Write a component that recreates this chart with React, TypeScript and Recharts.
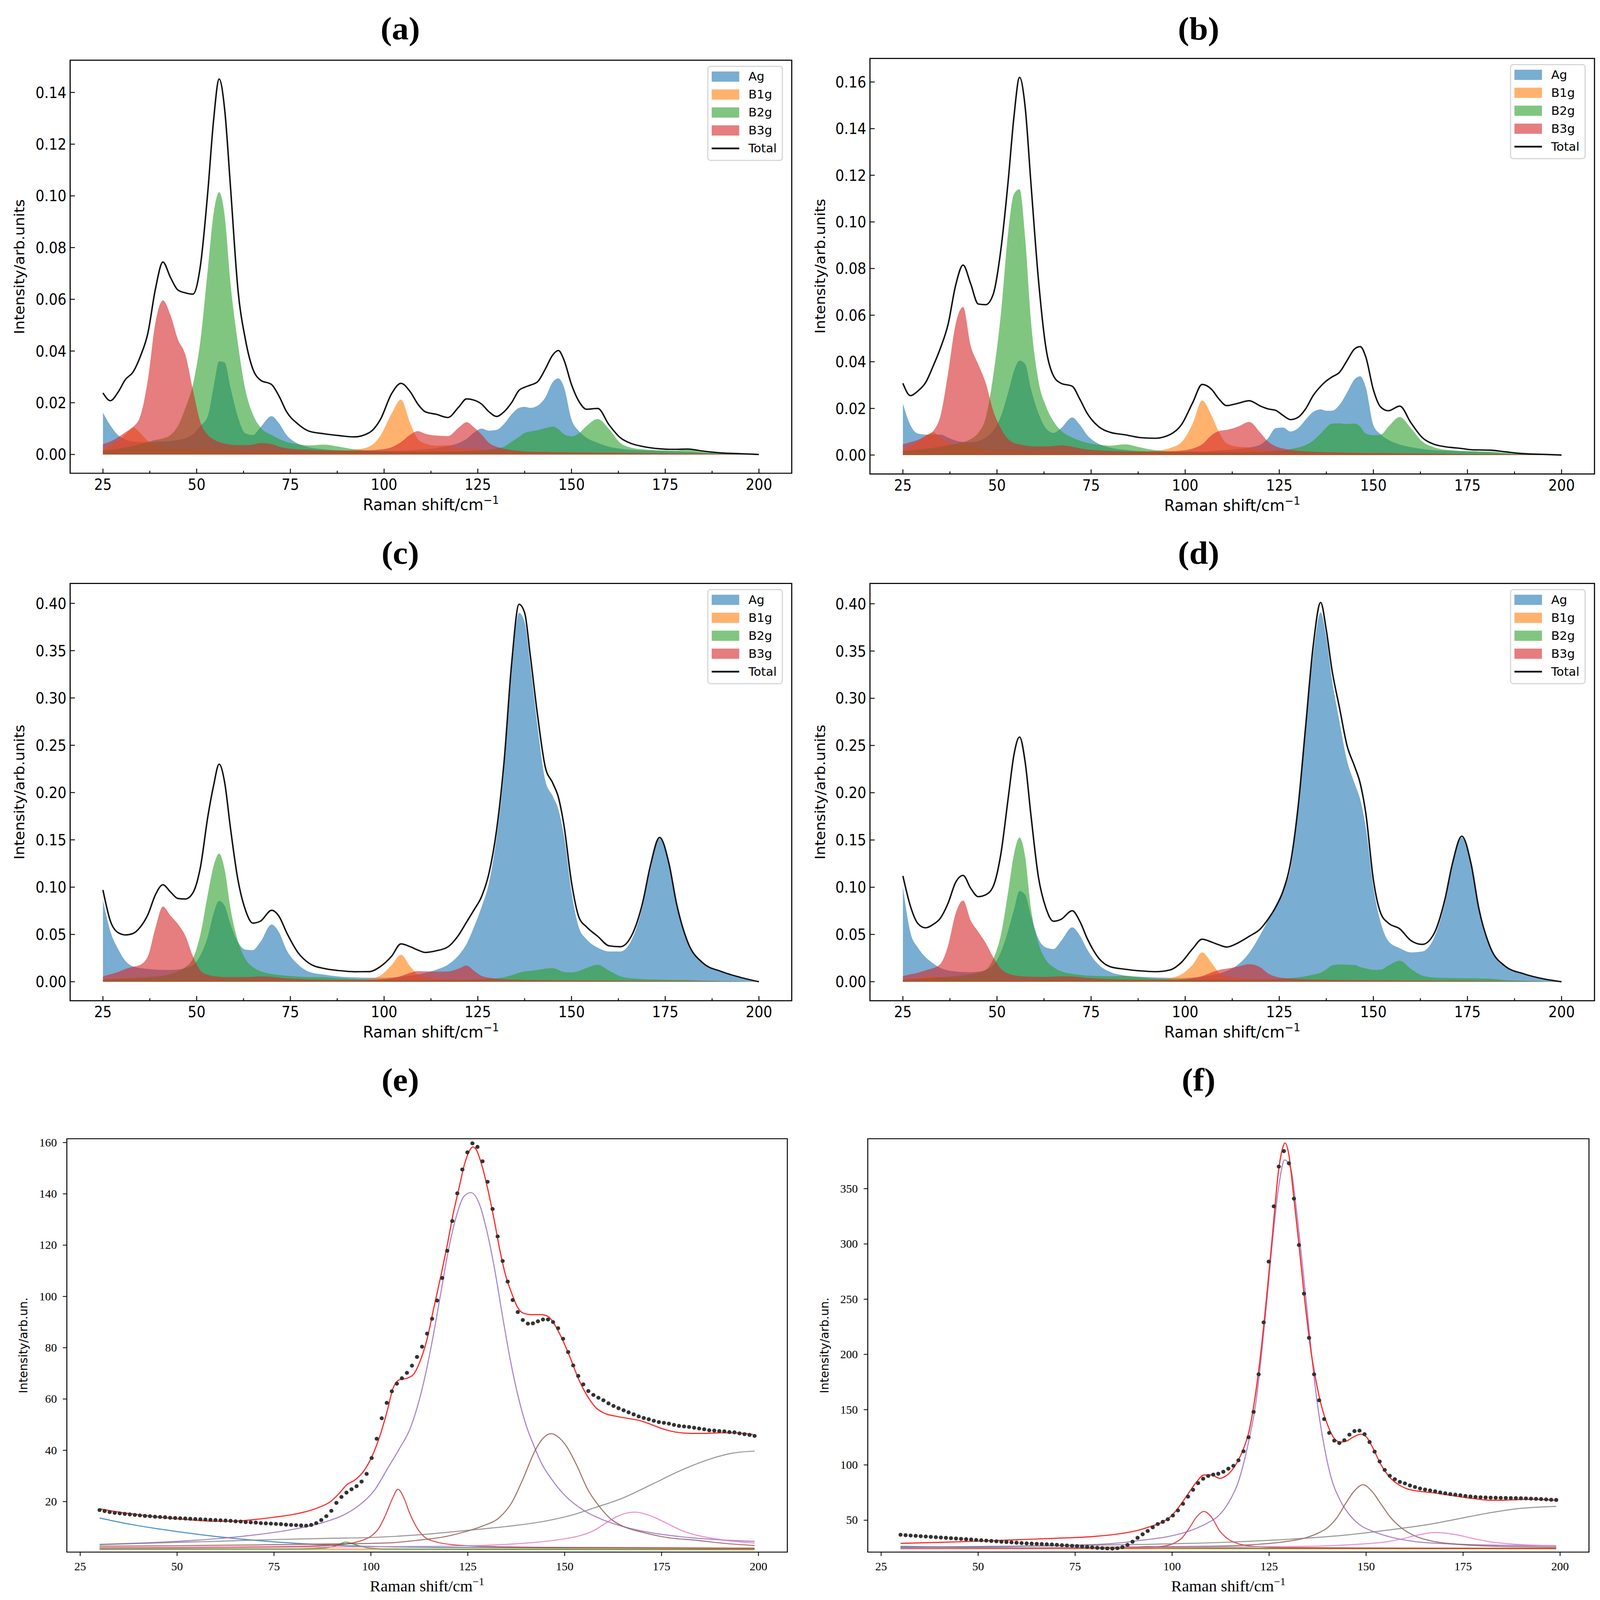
import React from 'react';
import { ComposedChart, Area, Line, Scatter, XAxis, YAxis, Legend, Label, ReferenceArea } from 'recharts';

// ---------- shared x grid for panels (a)-(d), Raman shift / cm^-1 ----------
const G = [25,27,29,31,33,35,37,39,41,43,45,47,49,51,53,54.5,56,57.5,59,61,63,65,67,70,72,74,77,80,84,88,92,96,99,102,104.5,107,109,111,114,117,120,122,124,126,128,130,132,134,136,137.5,139,141,143,145,146.5,148,150,152,154,157,160,163,166,169,171,173.5,176,178,181,185,190,195,200];

// ---------- panel (a) ----------
const A_TOTAL = [0.0238,0.0208,0.024,0.029,0.0318,0.038,0.047,0.064,0.0744,0.0685,0.0636,0.0625,0.062,0.073,0.102,0.129,0.1452,0.133,0.104,0.064,0.0445,0.033,0.0288,0.027,0.0225,0.0165,0.0118,0.009,0.008,0.0073,0.0068,0.0084,0.0135,0.0235,0.0275,0.0242,0.0195,0.0165,0.0155,0.0143,0.0185,0.0215,0.021,0.0195,0.0165,0.0147,0.0165,0.020,0.0248,0.026,0.0268,0.0282,0.033,0.0385,0.0402,0.0365,0.027,0.0205,0.0175,0.0178,0.0115,0.0065,0.0042,0.0031,0.0026,0.0022,0.002,0.002,0.0021,0.0013,0.0006,0.0003,0];
const A_AG = [0.0162,0.0112,0.0075,0.0058,0.005,0.0048,0.0048,0.0049,0.005,0.0052,0.0056,0.0063,0.0078,0.011,0.015,0.026,0.036,0.0355,0.026,0.0145,0.0082,0.0075,0.0105,0.0148,0.012,0.0075,0.0042,0.0028,0.002,0.0016,0.0014,0.0013,0.0013,0.0014,0.0015,0.0016,0.0018,0.002,0.0025,0.0033,0.0045,0.006,0.0085,0.010,0.0092,0.0095,0.0118,0.0155,0.018,0.0184,0.018,0.0189,0.022,0.028,0.0294,0.026,0.0135,0.009,0.0065,0.0045,0.003,0.0022,0.0018,0.0016,0.0015,0.0014,0.0013,0.0012,0.001,0.0008,0.0005,0.0002,0];
const A_B1G = [0.002,0.0035,0.0052,0.0078,0.0105,0.0082,0.0052,0.0038,0.0032,0.0028,0.0026,0.0024,0.0022,0.002,0.0019,0.0018,0.0017,0.0016,0.0016,0.0015,0.0015,0.0014,0.0014,0.0014,0.0013,0.0013,0.0013,0.0013,0.0013,0.0014,0.0018,0.003,0.0072,0.0158,0.0212,0.012,0.0059,0.0042,0.0034,0.0035,0.0024,0.0022,0.0021,0.0019,0.0016,0.0014,0.0012,0.0011,0.001,0.001,0.0009,0.0009,0.0008,0.0008,0.0008,0.0007,0.0007,0.0007,0.0006,0.0006,0.0005,0.0005,0.0004,0.0004,0.0004,0.0003,0.0003,0.0003,0.0003,0.0002,0.0001,0.0001,0];
const A_B2G = [0.0015,0.0018,0.0022,0.0027,0.0033,0.004,0.0048,0.0056,0.0062,0.0075,0.011,0.018,0.027,0.044,0.072,0.093,0.1014,0.092,0.0666,0.043,0.025,0.0155,0.0105,0.0075,0.006,0.0048,0.004,0.0035,0.0038,0.003,0.002,0.0015,0.0013,0.0012,0.0011,0.0011,0.0011,0.0011,0.0012,0.0012,0.0012,0.0013,0.0014,0.0016,0.0019,0.0023,0.003,0.0049,0.0068,0.0083,0.0089,0.0094,0.0102,0.0108,0.0098,0.0078,0.007,0.0082,0.011,0.0137,0.0098,0.0045,0.0026,0.002,0.0018,0.0016,0.0015,0.0015,0.0019,0.0009,0.0004,0.0002,0];
const A_B3G = [0.004,0.005,0.0066,0.0086,0.0106,0.015,0.029,0.051,0.0596,0.054,0.0445,0.0385,0.025,0.0125,0.0075,0.0058,0.0048,0.0042,0.0038,0.0036,0.0036,0.0038,0.0044,0.004,0.003,0.0024,0.002,0.0018,0.0016,0.0015,0.0015,0.0016,0.0019,0.0028,0.0048,0.0077,0.009,0.008,0.0073,0.0071,0.0105,0.0125,0.0105,0.0077,0.0045,0.003,0.0022,0.0017,0.0014,0.0012,0.0011,0.001,0.001,0.0009,0.0009,0.0009,0.0008,0.0008,0.0008,0.0007,0.0007,0.0006,0.0006,0.0005,0.0005,0.0005,0.0004,0.0004,0.0004,0.0003,0.0002,0.0001,0];

// ---------- panel (b) ----------
const B_TOTAL = [0.0308,0.0255,0.0275,0.031,0.038,0.046,0.056,0.0727,0.0815,0.0735,0.0648,0.0645,0.069,0.0877,0.118,0.145,0.162,0.149,0.117,0.0755,0.046,0.034,0.0308,0.0295,0.024,0.0178,0.0122,0.0098,0.0087,0.0075,0.0072,0.0088,0.013,0.0225,0.0303,0.0282,0.024,0.0212,0.0222,0.0233,0.021,0.0198,0.0192,0.017,0.0152,0.0162,0.0198,0.0255,0.0295,0.0318,0.0335,0.0355,0.0405,0.0455,0.0465,0.042,0.028,0.0205,0.019,0.021,0.0138,0.0075,0.0047,0.0036,0.0032,0.0028,0.0023,0.0022,0.0021,0.0014,0.0006,0.0003,0];
const B_AG = [0.0221,0.0128,0.0092,0.0088,0.0088,0.0088,0.0075,0.0062,0.0056,0.0055,0.006,0.0075,0.0105,0.0165,0.027,0.036,0.0405,0.039,0.0285,0.018,0.0115,0.0095,0.0115,0.0161,0.013,0.0085,0.0048,0.0032,0.0022,0.0017,0.0015,0.0014,0.0014,0.0015,0.0016,0.0018,0.002,0.0022,0.0026,0.0032,0.0045,0.0072,0.0115,0.0118,0.0101,0.0115,0.0152,0.0185,0.0196,0.019,0.019,0.0215,0.0268,0.0325,0.0338,0.029,0.0128,0.0088,0.0065,0.0045,0.0034,0.0026,0.0021,0.0019,0.0018,0.0016,0.0014,0.0013,0.0011,0.0008,0.0005,0.0002,0];
const B_B1G = [0.0022,0.0035,0.0055,0.0082,0.0098,0.0075,0.0055,0.0045,0.0045,0.004,0.0032,0.0026,0.0022,0.002,0.0019,0.0018,0.0017,0.0016,0.0016,0.0015,0.0015,0.0014,0.0014,0.0014,0.0013,0.0013,0.0013,0.0013,0.0014,0.0015,0.0018,0.003,0.0055,0.0135,0.0234,0.017,0.0098,0.005,0.0036,0.0033,0.0025,0.0022,0.002,0.0018,0.0016,0.0014,0.0012,0.0011,0.001,0.001,0.0009,0.0009,0.0008,0.0008,0.0008,0.0007,0.0007,0.0007,0.0006,0.0006,0.0005,0.0005,0.0004,0.0004,0.0004,0.0003,0.0003,0.0003,0.0003,0.0002,0.0001,0.0001,0];
const B_B2G = [0.0018,0.002,0.0023,0.0027,0.0031,0.0036,0.0042,0.0048,0.0055,0.0068,0.0095,0.016,0.034,0.06,0.096,0.112,0.114,0.093,0.058,0.032,0.021,0.0145,0.0105,0.0075,0.0062,0.0052,0.0045,0.004,0.0046,0.0033,0.0021,0.0016,0.0014,0.0013,0.0012,0.0012,0.0012,0.0012,0.0013,0.0013,0.0014,0.0015,0.0017,0.002,0.0025,0.0032,0.0043,0.0062,0.0092,0.0118,0.0135,0.0136,0.0133,0.0135,0.0122,0.0092,0.0085,0.0088,0.0122,0.0163,0.0115,0.0058,0.0034,0.0023,0.002,0.0018,0.0017,0.0016,0.0015,0.0009,0.0004,0.0002,0];
const B_B3G = [0.0046,0.0055,0.0065,0.0082,0.0102,0.017,0.035,0.056,0.0635,0.047,0.039,0.031,0.019,0.0115,0.0068,0.0052,0.0046,0.0041,0.0038,0.0037,0.0037,0.0039,0.0042,0.0036,0.0029,0.0024,0.002,0.0018,0.0016,0.0015,0.0015,0.0016,0.0019,0.0028,0.0046,0.0085,0.0103,0.0108,0.0122,0.0142,0.0095,0.0058,0.0038,0.0028,0.0022,0.0018,0.0016,0.0014,0.0013,0.0012,0.0012,0.0011,0.0011,0.001,0.001,0.0009,0.0009,0.0009,0.0008,0.0008,0.0007,0.0007,0.0006,0.0006,0.0005,0.0005,0.0004,0.0004,0.0004,0.0003,0.0002,0.0001,0];

// ---------- panel (c) ----------
const C_TOTAL = [0.097,0.064,0.052,0.0495,0.051,0.058,0.071,0.092,0.1025,0.095,0.088,0.0875,0.094,0.121,0.175,0.207,0.230,0.21,0.163,0.108,0.076,0.062,0.064,0.0755,0.069,0.052,0.031,0.0195,0.014,0.0118,0.0106,0.0107,0.016,0.027,0.040,0.037,0.0335,0.031,0.0328,0.0368,0.050,0.063,0.076,0.09,0.115,0.16,0.232,0.335,0.399,0.39,0.345,0.28,0.227,0.21,0.195,0.165,0.105,0.068,0.058,0.048,0.038,0.037,0.0485,0.084,0.122,0.1526,0.125,0.083,0.042,0.020,0.0108,0.0047,0];
const C_AG = [0.0864,0.053,0.035,0.022,0.0162,0.0145,0.0135,0.0128,0.0125,0.0125,0.013,0.0145,0.0175,0.028,0.048,0.072,0.0855,0.080,0.061,0.042,0.034,0.0335,0.042,0.0605,0.052,0.0335,0.0185,0.0105,0.0075,0.0055,0.0046,0.0042,0.0042,0.0045,0.0053,0.0065,0.0078,0.0095,0.0128,0.018,0.0285,0.04,0.058,0.079,0.105,0.152,0.222,0.325,0.39,0.38,0.335,0.268,0.213,0.196,0.182,0.154,0.095,0.057,0.045,0.036,0.032,0.032,0.044,0.08,0.118,0.1515,0.124,0.081,0.041,0.0195,0.0102,0.0044,0];
const C_B1G = [0.002,0.0025,0.003,0.0036,0.004,0.0035,0.003,0.0027,0.0025,0.0023,0.0022,0.0021,0.002,0.0019,0.0018,0.0018,0.0017,0.0017,0.0016,0.0016,0.0015,0.0015,0.0015,0.0015,0.0015,0.0015,0.0015,0.0015,0.0016,0.0017,0.002,0.003,0.0065,0.0175,0.0285,0.016,0.0078,0.0048,0.0032,0.0026,0.0021,0.0019,0.0017,0.0016,0.0015,0.0014,0.0013,0.0012,0.0011,0.0011,0.001,0.001,0.001,0.0009,0.0009,0.0009,0.0008,0.0008,0.0008,0.0007,0.0007,0.0006,0.0006,0.0005,0.0005,0.0005,0.0004,0.0004,0.0004,0.0003,0.0002,0.0001,0];
const C_B2G = [0.0025,0.0028,0.0031,0.0035,0.0039,0.0043,0.0049,0.0056,0.0063,0.0082,0.011,0.0155,0.0245,0.05,0.093,0.122,0.1354,0.118,0.078,0.043,0.024,0.0155,0.0112,0.0082,0.0071,0.0063,0.0055,0.005,0.0048,0.0038,0.0028,0.0022,0.002,0.0019,0.0018,0.0018,0.0018,0.0018,0.0019,0.002,0.002,0.0021,0.0023,0.0026,0.003,0.0036,0.0048,0.0068,0.0095,0.0108,0.0115,0.0125,0.0138,0.0143,0.0125,0.0102,0.0098,0.0115,0.0145,0.018,0.0118,0.0058,0.0036,0.0028,0.0025,0.0023,0.0021,0.002,0.0019,0.0012,0.0006,0.0002,0];
const C_B3G = [0.0057,0.0078,0.0102,0.0135,0.0158,0.018,0.027,0.057,0.0795,0.070,0.061,0.0485,0.027,0.012,0.0073,0.006,0.0053,0.005,0.0049,0.0049,0.005,0.0052,0.0056,0.0052,0.0043,0.0036,0.003,0.0025,0.0021,0.002,0.002,0.0021,0.0025,0.0038,0.006,0.0095,0.0113,0.011,0.0106,0.0108,0.014,0.0171,0.0115,0.0062,0.0042,0.0032,0.0027,0.0024,0.0022,0.002,0.0019,0.0018,0.0017,0.0016,0.0015,0.0015,0.0014,0.0013,0.0013,0.0012,0.0011,0.001,0.001,0.0009,0.0009,0.0008,0.0008,0.0007,0.0007,0.0006,0.0004,0.0002,0];

// ---------- panel (d) ----------
const D_TOTAL = [0.112,0.080,0.0615,0.057,0.0605,0.0675,0.083,0.105,0.1125,0.099,0.090,0.092,0.101,0.1345,0.195,0.240,0.259,0.232,0.177,0.111,0.078,0.064,0.066,0.0751,0.064,0.0455,0.025,0.016,0.0132,0.0115,0.0106,0.0125,0.0205,0.035,0.045,0.042,0.039,0.0367,0.041,0.048,0.056,0.066,0.0785,0.096,0.126,0.185,0.27,0.355,0.4014,0.372,0.33,0.29,0.25,0.228,0.21,0.178,0.108,0.072,0.062,0.056,0.0435,0.0395,0.050,0.087,0.125,0.154,0.124,0.078,0.037,0.0165,0.0083,0.0032,0];
const D_AG = [0.1006,0.052,0.036,0.026,0.0195,0.0145,0.012,0.0108,0.0102,0.010,0.0105,0.0125,0.0175,0.031,0.0545,0.076,0.096,0.092,0.07,0.0455,0.0362,0.0345,0.043,0.0575,0.049,0.034,0.018,0.0105,0.0065,0.0052,0.0045,0.0041,0.004,0.0045,0.0055,0.0068,0.0085,0.0114,0.018,0.0305,0.050,0.065,0.081,0.097,0.12,0.18,0.265,0.345,0.391,0.364,0.32,0.275,0.234,0.21,0.193,0.163,0.1,0.062,0.043,0.0355,0.031,0.032,0.0455,0.083,0.122,0.1525,0.122,0.0765,0.036,0.016,0.008,0.003,0];
const D_B1G = [0.002,0.0028,0.0038,0.0052,0.006,0.0048,0.0036,0.003,0.0027,0.0025,0.0023,0.0022,0.0021,0.002,0.0019,0.0018,0.0018,0.0017,0.0017,0.0016,0.0016,0.0016,0.0016,0.0016,0.0016,0.0016,0.0016,0.0016,0.0017,0.0019,0.0023,0.0038,0.0078,0.018,0.031,0.02,0.0095,0.0055,0.0038,0.003,0.0024,0.0021,0.0019,0.0017,0.0016,0.0015,0.0014,0.0013,0.0012,0.0012,0.0011,0.0011,0.001,0.001,0.001,0.0009,0.0009,0.0009,0.0008,0.0008,0.0007,0.0007,0.0006,0.0006,0.0005,0.0005,0.0005,0.0004,0.0004,0.0003,0.0002,0.0001,0];
const D_B2G = [0.0025,0.0028,0.0032,0.0036,0.0041,0.0046,0.0052,0.006,0.0068,0.0078,0.0095,0.0125,0.024,0.049,0.096,0.135,0.1525,0.132,0.078,0.041,0.023,0.0155,0.011,0.0082,0.0072,0.0065,0.006,0.0057,0.0062,0.0045,0.0033,0.0026,0.0023,0.0021,0.002,0.002,0.002,0.002,0.0021,0.0022,0.0023,0.0025,0.0028,0.0032,0.0038,0.0046,0.0058,0.0075,0.0095,0.013,0.0172,0.0183,0.018,0.0178,0.0155,0.014,0.0125,0.0128,0.0171,0.0222,0.0135,0.0065,0.0045,0.004,0.0038,0.0037,0.0036,0.0035,0.0032,0.0018,0.001,0.0004,0];
const D_B3G = [0.006,0.0078,0.0095,0.012,0.0143,0.019,0.038,0.072,0.086,0.065,0.053,0.041,0.026,0.014,0.0085,0.0068,0.006,0.0055,0.0052,0.005,0.005,0.0053,0.0058,0.0055,0.0048,0.004,0.0033,0.0028,0.0024,0.0021,0.002,0.0021,0.0025,0.0038,0.006,0.0098,0.0125,0.0138,0.016,0.0186,0.0152,0.0088,0.0055,0.004,0.0033,0.0029,0.0026,0.0024,0.0022,0.0021,0.002,0.0019,0.0018,0.0017,0.0017,0.0016,0.0015,0.0015,0.0014,0.0013,0.0012,0.0012,0.0011,0.001,0.001,0.0009,0.0009,0.0008,0.0008,0.0006,0.0004,0.0002,0];

// ---------- panels (e), (f): measured points ----------
const DOT_X = [30,31.3,32.6,33.9,35.2,36.5,37.8,39.1,40.4,41.7,43,44.3,45.6,46.9,48.2,49.5,50.8,52.1,53.4,54.7,56,57.3,58.6,59.9,61.2,62.5,63.8,65.1,66.4,67.7,69,70.3,71.6,72.9,74.2,75.5,76.8,78.1,79.4,80.7,82,83.3,84.6,85.9,87.2,88.5,89.8,91.1,92.4,93.7,95,96.3,97.6,98.9,100.2,101.5,102.8,104.1,105.4,106.7,108,109.3,110.6,111.9,113.2,114.5,115.8,117.1,118.4,119.7,121,122.3,123.6,124.9,126.2,127.5,128.8,130.1,131.4,132.7,134,135.3,136.6,137.9,139.2,140.5,141.8,143.1,144.4,145.7,147,148.3,149.6,150.9,152.2,153.5,154.8,156.1,157.4,158.7,160,161.3,162.6,163.9,165.2,166.5,167.8,169.1,170.4,171.7,173,174.3,175.6,176.9,178.2,179.5,180.8,182.1,183.4,184.7,186,187.3,188.6,189.9,191.2,192.5,193.8,195.1,196.4,197.7,199];
const E_DOTS = [16.7,16.3,15.9,15.6,15.4,15.2,15.0,14.8,14.6,14.4,14.3,14.1,14.0,13.9,13.7,13.6,13.5,13.4,13.3,13.2,13.1,13.0,12.9,12.8,12.7,12.6,12.5,12.3,12.2,12.0,11.9,11.8,11.6,11.5,11.4,11.3,11.2,11.0,10.9,10.8,10.7,10.6,10.9,11.6,12.8,14.3,16.4,19.5,21.8,23.5,24.8,26.0,27.8,30.8,37.0,44.5,52.5,58.5,63.0,66.0,68.1,70.2,73.0,76.4,80.4,85.5,91.3,98.4,107.2,117.8,129.4,140.2,149.5,156.2,159.7,158.3,152.7,144.7,134.1,123.4,113.8,105.8,98.6,93.9,90.8,89.4,89.5,90.3,91.0,91.0,90.0,87.6,83.5,78.3,73.1,69.0,65.7,63.1,61.6,60.5,59.5,58.3,57.3,56.4,55.6,54.8,54.0,53.2,52.6,52.1,51.5,51.0,50.7,50.4,49.9,49.5,49.3,49.1,48.8,48.5,48.2,47.8,47.7,47.5,47.4,47.1,47.0,46.6,46.3,46.0,45.6];
const F_DOTS = [36.8,36.4,36.1,35.8,35.5,35.2,34.9,34.6,34.3,34.0,33.7,33.4,33.1,32.8,32.5,32.1,31.8,31.5,31.2,30.9,30.5,30.2,29.9,29.6,29.3,29.0,28.8,28.6,28.4,28.2,28.0,27.7,27.4,27.1,26.8,26.5,26.2,25.8,25.4,25.0,24.7,24.4,24.3,24.6,25.6,27.6,30.5,34.0,37.2,40.2,43.5,46.5,48.5,50.8,54.2,58.8,64.8,71.3,77.5,83.5,87.5,90.0,91.2,92.0,93.8,96.6,99.2,104.2,112.3,125.0,148.0,182.0,229.0,284.0,334.0,370.0,384.0,373.0,341.0,299.0,255.0,215.0,182.0,158.5,141.5,129.0,122.0,119.8,122.3,127.4,130.6,131.0,127.8,120.7,112.0,103.1,95.5,90.2,87.1,84.6,83.3,81.4,80.0,78.7,77.7,76.9,76.1,75.1,74.3,73.6,73.1,72.6,71.9,71.4,71.0,70.7,70.5,70.4,70.3,70.2,70.1,70.0,69.9,69.8,69.7,69.5,69.3,69.1,68.8,68.5,68.3];

// ---------- panels (e), (f): fitted components [shift, intensity] ----------
const E_BLUE = [[30,13.6],[35,12.0],[40,10.6],[45,9.4],[50,8.3],[55,7.3],[60,6.4],[65,5.6],[70,4.9],[80,3.8],[90,3.0],[100,2.5],[120,2.1],[150,1.9],[199,1.8]];
const E_ORANGE = [[30,1.5],[100,1.45],[199,1.4]];
const E_GREEN = [[30,1.4],[80,1.5],[88,1.9],[91,2.8],[93.5,4.2],[96,3.2],[99,2.0],[104,1.5],[130,1.3],[199,1.2]];
const E_RED = [[30,2.0],[60,2.2],[80,2.5],[90,3.0],[95,3.8],[98,5.0],[100,6.5],[102,9.5],[104,15.5],[105.5,21],[107,24.8],[108.5,21.5],[110,15.5],[112,9.5],[114,6.0],[117,4.2],[121,3.2],[130,2.5],[150,2.1],[199,1.8]];
const E_PURPLE = [[30,3.3],[40,3.8],[50,4.5],[60,5.5],[70,7.0],[80,9.2],[88,12.0],[93,14.8],[97,18.6],[101,24.6],[104.5,33.4],[107.5,41],[110,48],[112,57],[114,69],[116,84],[118,101],[120,118],[122,131],[124,139],[125.8,140.5],[128,136],[130,125],[132,110],[134,92],[136,75],[138,61],[140,50],[142,42],[144,35],[146.5,29],[150,22.5],[155,16.5],[160,12.8],[165,10.3],[170,8.5],[180,6.3],[190,5.1],[199,4.5]];
const E_BROWN = [[30,2.6],[50,2.8],[70,3.1],[90,3.5],[104.5,3.9],[112,4.9],[119.7,6.5],[124.2,8.2],[128.7,10.4],[133.3,14],[136.3,19.5],[139.3,29],[142.4,40],[144.5,44.8],[146.5,46.5],[148.5,45],[150.5,41.5],[153,34.5],[156,24.6],[159,18],[162,13.1],[165,10.4],[169.6,8.2],[176.4,6.0],[184,4.9],[192,3.6],[199,2.9]];
const E_PINK = [[30,1.8],[60,2.0],[90,2.3],[110,2.5],[125.7,2.8],[134.8,3.3],[142.4,4.1],[150,5.5],[153.7,6.6],[157.5,8.7],[160.5,11.5],[163.5,14.2],[168,15.9],[172.6,14.2],[176.4,11.5],[180.2,8.7],[184,6.9],[187.7,5.8],[193,4.6],[199,3.8]];
const E_GRAY = [[30,3.2],[45,3.9],[60,4.5],[75,5.2],[90,5.7],[100,6.0],[112,7.0],[125,8.8],[135,10.3],[145,12.4],[152,14.8],[157.5,17.5],[165,21.4],[172.6,26.8],[180.2,32.3],[187.7,36.7],[193,38.8],[199,39.7]];
const E_FIT = [[30,17.2],[35,15.9],[40,14.9],[45,14.0],[50,13.3],[55,12.7],[60,12.3],[65,12.4],[70,13.0],[75,13.9],[80,15.0],[84,16.4],[87,18.0],[89.4,19.8],[91.7,23],[93.6,26.3],[96.2,28.8],[98.1,31.8],[100,36.7],[102.3,45.5],[104.2,55.3],[105.7,64.1],[107.2,67.4],[109.5,68.2],[111,69.6],[112.5,74],[114.4,82.8],[116.3,96],[118.2,109],[119.7,120],[121.2,132],[122.7,142],[124.2,151.8],[125.5,157],[126.3,158.3],[127.2,157.2],[128.7,150.8],[130.3,140.9],[131.8,129.9],[133.3,117.9],[134.8,108],[136.3,101.4],[137.8,95.9],[139.3,93.5],[141.6,92.9],[143.9,92.9],[145.8,92.1],[147.3,89.3],[149.2,83.9],[151.4,76.2],[153.7,67.4],[156,60.8],[158.2,56.4],[160.5,54.3],[163.5,53.2],[166.5,52.4],[169.6,51.5],[172.6,49.9],[175.6,48.2],[178.6,47.1],[182.5,46.6],[186.2,46.6],[190,46.8],[193.8,46.8],[198.6,46.2]];

const F_BLUE = [[30,26.3],[40,25.8],[50,25.4],[60,25.1],[80,24.8],[100,24.6],[150,24.4],[199,24.3]];
const F_ORANGE = [[30,24.2],[199,24.1]];
const F_GREEN = [[30,24.6],[85,24.7],[90,25.2],[93.5,26.2],[97,25.3],[102,24.8],[130,24.6],[199,24.5]];
const F_RED = [[30,24.4],[80,24.6],[93.4,24.9],[97.2,26.2],[100.2,28.7],[102.5,33.8],[104.4,42.7],[106.3,52.9],[108.2,57.9],[110.1,52.9],[112.3,40.1],[114.6,32.5],[117.6,28.2],[121.4,26.2],[130,25.2],[150,24.8],[199,24.5]];
const F_PURPLE = [[30,25.6],[50,26.0],[70,27.0],[80,28.0],[88,30.0],[91.2,31.5],[94.9,33],[98.7,35],[102.5,38.1],[106.3,42.7],[109.3,47.8],[111.6,52.9],[113.8,61.7],[115.3,70.6],[116.9,83],[118.4,101],[119.9,124],[121.4,152],[122.9,195],[124.4,248],[125.9,304],[127.4,350],[129,376],[130.6,367.8],[132,332],[133.5,284],[135,233],[136.5,182],[138,141.8],[139.5,111.3],[141,88.4],[143.3,68.1],[145.6,55.4],[148.6,45.2],[151.6,40.1],[155.4,35.6],[162.9,30.5],[170.5,28.7],[181.9,27.5],[199,26.9]];
const F_BROWN = [[30,24.5],[60,24.9],[90,25.8],[113.8,26.7],[121.4,28],[129,30.5],[134.2,33.8],[138,38.9],[140.3,43.9],[142.6,52.9],[144.8,65.5],[147.1,77],[149.2,82.1],[151.6,75.7],[153.9,64.3],[156.2,52.9],[159.2,42.7],[163,35.1],[166.7,31.3],[174.3,28],[185.6,26.2],[199,25.7]];
const F_PINK = [[30,24.6],[80,25.0],[110,25.6],[136.5,26.4],[144.1,27.5],[150.1,28.7],[155.4,30.5],[159.2,33],[163,36.3],[167.9,38.9],[172.8,37.1],[178.1,33],[181.9,30.5],[189.4,28],[199,26.9]];
const F_GRAY = [[30,25.5],[60,26.5],[91.2,28],[113.8,30],[129,32.5],[144.1,36.3],[159.2,42.7],[166.7,46.5],[174.3,51.6],[181.9,56.7],[189.4,60.5],[199,62.5]];
const F_FIT = [[30,29.0],[40,29.9],[50,31.0],[60,32.3],[70,33.6],[80,35.3],[85,37.0],[88,38.5],[91.2,40.8],[94.2,44.0],[97.2,47.8],[99.5,52.9],[101.7,61.7],[104,73.2],[106.3,84.6],[108.2,90.9],[110.1,90.9],[112.3,87.9],[114.2,90.9],[116.1,98.6],[118,111.3],[119.9,131.6],[121.4,162],[122.9,202.7],[124.4,253.5],[125.9,309.4],[127.4,365.3],[128.6,388.1],[129.1,391.4],[130.1,380.5],[131.2,347.5],[132.7,299.2],[134.2,248.4],[135.8,202.7],[137.3,172.2],[138.8,149.4],[140.3,134.1],[141.8,124],[143.3,120.7],[144.8,121.4],[146.7,125.2],[148.6,127.8],[150.1,125.2],[151.6,116.4],[153.9,99.8],[156.2,88.4],[158.4,82.1],[160.7,78.2],[163.7,76.2],[166.7,75],[170.5,73.2],[174.3,71.1],[178.1,69.4],[181.9,68.1],[185.6,68.1],[189.4,68.6],[193.2,68.9],[198.5,68.1]];

// ---------- ticks ----------
const X_TICKS_AD = [25,37.5,50,62.5,75,87.5,100,112.5,125,137.5,150,162.5,175,187.5,200];
const Y_TICKS_A = [0,0.02,0.04,0.06,0.08,0.10,0.12,0.14];
const Y_TICKS_B = [0,0.02,0.04,0.06,0.08,0.10,0.12,0.14,0.16];
const Y_TICKS_CD = [0,0.05,0.10,0.15,0.20,0.25,0.30,0.35,0.40];
const X_TICKS_EF = [25,50,75,100,125,150,175,200];
const Y_TICKS_E = [20,40,60,80,100,120,140,160];
const Y_TICKS_F = [50,100,150,200,250,300,350];

const MODES = [
  { key: 'ag', name: 'Ag', color: '#1f77b4' },
  { key: 'b1g', name: 'B1g', color: '#ff7f0e' },
  { key: 'b2g', name: 'B2g', color: '#2ca02c' },
  { key: 'b3g', name: 'B3g', color: '#d62728' },
];

function buildRows(ag: number[], b1g: number[], b2g: number[], b3g: number[], total: number[]) {
  return G.map((x, i) => ({ x, ag: ag[i], b1g: b1g[i], b2g: b2g[i], b3g: b3g[i], total: total[i] }));
}
const pairs = (arr: number[][]) => arr.map(([x, y]) => ({ x, y }));

type Geo = { left: number; top: number; W: number; H: number; pl: number; pr: number; pt: number; pb: number };

const SANS = 'DejaVu Sans';
const SERIF = 'Liberation Serif';
const SX = 0.88;

// design size of the figure (reference pixels)
const DESIGN_W = 4357;
const DESIGN_H = 4544;

function ModeLegend() {
  const items = [...MODES.map((m) => ({ name: m.name, color: m.color, line: false })), { name: 'Total', color: '#111111', line: true }];
  return (
    <div style={{ position: 'relative', width: 206, height: 270 }}>
      <div style={{ position: 'absolute', left: 0, top: 0, right: 0, bottom: 0, border: '3px solid #d4d4d4', borderRadius: 9, background: 'rgba(255,255,255,0.8)' }} />
      {items.map((it, i) => {
        const cy = 30 + 51 * i;
        return (
          <React.Fragment key={it.name}>
            {it.line ? (
              <div style={{ position: 'absolute', left: 12, top: cy - 2.5, width: 75, height: 5, background: it.color }} />
            ) : (
              <div style={{ position: 'absolute', left: 12, top: cy - 14, width: 75, height: 29, background: it.color, opacity: 0.6 }} />
            )}
            <div style={{ position: 'absolute', left: 112, top: cy - 24, height: 50, lineHeight: '50px', fontFamily: SANS, fontSize: 33, color: '#000', whiteSpace: 'nowrap' }}>{it.name}</div>
          </React.Fragment>
        );
      })}
    </div>
  );
}

function Title({ cx, cy, text }: { cx: number; cy: number; text: string }) {
  return (
    <div style={{ position: 'absolute', left: cx - 200, top: cy - 60, width: 400, height: 120, lineHeight: '120px', textAlign: 'center', fontFamily: SERIF, fontWeight: 'bold', fontSize: 92, color: '#000' }}>{text}</div>
  );
}

function ModePanel({ geo, rows, yDomain, yTicks }: { geo: Geo; rows: any[]; yDomain: [number, number]; yTicks: number[] }) {
  const { W, H, pl, pr, pt, pb } = geo;
  const xDomain: [number, number] = [16.25, 208.75];
  const xTick = (p: any) => {
    const v = p.payload.value;
    const major = Math.abs(v % 25) < 1e-6;
    return (
      <g>
        <line x1={p.x} x2={p.x} y1={pb} y2={pb - (major ? 13 : 7)} stroke="#000" strokeWidth={2.5} />
        {major && (
          <text transform={`translate(${p.x},${pb + 47}) scale(${SX},1)`} textAnchor="middle" fontFamily={SANS} fontSize={43} fill="#000">{v}</text>
        )}
      </g>
    );
  };
  const yTick = (p: any) => {
    const v = p.payload.value;
    return (
      <g>
        <line x1={pl} x2={pl + 13} y1={p.y} y2={p.y} stroke="#000" strokeWidth={2.5} />
        <text transform={`translate(${pl - 10},${p.y}) scale(${SX},1)`} textAnchor="end" dy="0.36em" fontFamily={SANS} fontSize={43} fill="#000">{v.toFixed(2)}</text>
      </g>
    );
  };
  const xLabel = () => (
    <text transform={`translate(${(pl + pr) / 2},${pb + 105}) scale(0.93,1)`} textAnchor="middle" fontFamily={SANS} fontSize={45} fill="#000">
      Raman shift/cm<tspan dy={-18} fontSize={31}>−1</tspan>
    </text>
  );
  const yLabel = () => (
    <text transform={`translate(53,${(pt + pb) / 2}) rotate(-90) scale(1,${SX})`} textAnchor="middle" dy="0.36em" fontFamily={SANS} fontSize={42} fill="#000">Intensity/arb.units</text>
  );
  return (
    <div style={{ position: 'absolute', left: geo.left, top: geo.top, width: W, height: H }}>
      <ComposedChart width={W} height={H} data={rows} margin={{ top: pt, right: W - pr, bottom: 0, left: 0 }}>
        <XAxis dataKey="x" type="number" domain={xDomain} ticks={X_TICKS_AD} interval={0} allowDataOverflow height={H - pb} axisLine={false} tickLine={false} tick={xTick}>
          <Label content={xLabel} />
        </XAxis>
        <YAxis type="number" domain={yDomain} ticks={yTicks} interval={0} allowDataOverflow width={pl} axisLine={false} tickLine={false} tick={yTick}>
          <Label content={yLabel} />
        </YAxis>
        {MODES.map((m) => (
          <Area key={m.key} dataKey={m.key} name={m.name} type="monotone" baseValue={0} fill={m.color} fillOpacity={0.6} stroke="none" isAnimationActive={false} />
        ))}
        <Line dataKey="total" name="Total" type="monotone" stroke="#111111" strokeWidth={4} dot={false} activeDot={false} isAnimationActive={false} />
        <ReferenceArea x1={xDomain[0]} x2={xDomain[1]} y1={yDomain[0]} y2={yDomain[1]} fill="none" stroke="#000" strokeWidth={3} ifOverflow="visible" />
        <Legend layout="horizontal" verticalAlign="middle" align="center" wrapperStyle={{ left: pr - 24 - 206, top: pt + 16, width: 206, height: 270 }} content={() => <ModeLegend />} />
      </ComposedChart>
    </div>
  );
}

const FIT_COLORS = ['#1f77b4', '#ff7f0e', '#2ca02c', '#d62728', '#9467bd', '#8c564b', '#e377c2', '#7f7f7f'];

function FitPanel({ geo, dots, comps, fit, yDomain, yTicks }: { geo: Geo; dots: number[]; comps: number[][][]; fit: number[][]; yDomain: [number, number]; yTicks: number[] }) {
  const { W, H, pl, pr, pt, pb } = geo;
  const xDomain: [number, number] = [21.55, 207.45];
  const dotRows = DOT_X.map((x, i) => ({ x, y: dots[i] }));
  const xTick = (p: any) => (
    <g>
      <line x1={p.x} x2={p.x} y1={pb} y2={pb + 11} stroke="#000" strokeWidth={2.2} />
      <text x={p.x} y={pb + 52} textAnchor="middle" fontFamily={SERIF} fontSize={32} fill="#000">{p.payload.value}</text>
    </g>
  );
  const yTick = (p: any) => (
    <g>
      <line x1={pl - 11} x2={pl} y1={p.y} y2={p.y} stroke="#000" strokeWidth={2.2} />
      <text x={pl - 27} y={p.y} dy="0.34em" textAnchor="end" fontFamily={SERIF} fontSize={32} fill="#000">{p.payload.value}</text>
    </g>
  );
  const xLabel = () => (
    <text x={(pl + pr) / 2} y={pb + 112} textAnchor="middle" fontFamily={SERIF} fontSize={44} fill="#000">
      Raman shift/cm<tspan dy={-18} fontSize={30}>−1</tspan>
    </text>
  );
  const yLabel = () => (
    <text transform={`translate(${pl - 119},${(pt + pb) / 2}) rotate(-90)`} textAnchor="middle" dy="0.36em" fontFamily={SANS} fontSize={33} fill="#000">Intensity/arb.un.</text>
  );
  return (
    <div style={{ position: 'absolute', left: geo.left, top: geo.top, width: W, height: H }}>
      <ComposedChart width={W} height={H} margin={{ top: pt, right: W - pr, bottom: 0, left: 0 }}>
        <XAxis dataKey="x" type="number" domain={xDomain} ticks={X_TICKS_EF} interval={0} allowDataOverflow height={H - pb} axisLine={false} tickLine={false} tick={xTick}>
          <Label content={xLabel} />
        </XAxis>
        <YAxis type="number" domain={yDomain} ticks={yTicks} interval={0} allowDataOverflow width={pl} axisLine={false} tickLine={false} tick={yTick}>
          <Label content={yLabel} />
        </YAxis>
        {comps.map((c, i) => (
          <Line key={`c${i}`} data={pairs(c)} dataKey="y" type="monotone" stroke={FIT_COLORS[i]} strokeOpacity={0.8} strokeWidth={3} dot={false} activeDot={false} isAnimationActive={false} />
        ))}
        <Scatter data={dotRows} dataKey="y" isAnimationActive={false} shape={(p: any) => <circle cx={p.cx} cy={p.cy} r={5.6} fill="#333333" />} />
        <Line data={pairs(fit)} dataKey="y" type="monotone" stroke="#ff2a2a" strokeWidth={3.2} dot={false} activeDot={false} isAnimationActive={false} />
        <ReferenceArea x1={xDomain[0]} x2={xDomain[1]} y1={yDomain[0]} y2={yDomain[1]} fill="none" stroke="#000" strokeWidth={2.6} ifOverflow="visible" />
      </ComposedChart>
    </div>
  );
}

const GEO_A: Geo = { left: 0, top: 0, W: 2180, H: 1500, pl: 191, pr: 2156, pt: 171, pb: 1344 };
const GEO_B: Geo = { left: 2180, top: 0, W: 2177, H: 1500, pl: 189, pr: 2162, pt: 166, pb: 1346 };
const GEO_C: Geo = { left: 0, top: 1500, W: 2180, H: 1500, pl: 191, pr: 2156, pt: 157, pb: 1342 };
const GEO_D: Geo = { left: 2180, top: 1500, W: 2177, H: 1500, pl: 189, pr: 2162, pt: 157, pb: 1342 };
const GEO_E: Geo = { left: 0, top: 3000, W: 2180, H: 1544, pl: 182, pr: 2144, pt: 234, pb: 1408 };
const GEO_F: Geo = { left: 2180, top: 3000, W: 2177, H: 1544, pl: 183, pr: 2147, pt: 234, pb: 1408 };

export default function App() {
  // the captured area is at most 4096 px on each side: fit the whole figure into it
  const vw = Math.min(typeof window !== 'undefined' && window.innerWidth ? window.innerWidth : 4096, 4096);
  const vh = Math.min(typeof window !== 'undefined' && window.innerHeight ? window.innerHeight : 4096, 4096);
  const sx = vw / DESIGN_W;
  const sy = vh / DESIGN_H;
  return (
    <div style={{ position: 'absolute', left: 0, top: 0, width: vw, height: vh, overflow: 'hidden', background: '#ffffff' }}>
      <div style={{ position: 'absolute', left: 0, top: 0, width: DESIGN_W, height: DESIGN_H, background: '#ffffff', transform: `scale(${sx},${sy})`, transformOrigin: '0 0' }}>
        <Title cx={1090} cy={81} text="(a)" />
        <Title cx={3264} cy={81} text="(b)" />
        <Title cx={1090} cy={1570} text="(c)" />
        <Title cx={3264} cy={1570} text="(d)" />
        <Title cx={1090} cy={3066} text="(e)" />
        <Title cx={3264} cy={3066} text="(f)" />
        <ModePanel geo={GEO_A} rows={buildRows(A_AG, A_B1G, A_B2G, A_B3G, A_TOTAL)} yDomain={[-0.00726, 0.15246]} yTicks={Y_TICKS_A} />
        <ModePanel geo={GEO_B} rows={buildRows(B_AG, B_B1G, B_B2G, B_B3G, B_TOTAL)} yDomain={[-0.0081, 0.1701]} yTicks={Y_TICKS_B} />
        <ModePanel geo={GEO_C} rows={buildRows(C_AG, C_B1G, C_B2G, C_B3G, C_TOTAL)} yDomain={[-0.02005, 0.42105]} yTicks={Y_TICKS_CD} />
        <ModePanel geo={GEO_D} rows={buildRows(D_AG, D_B1G, D_B2G, D_B3G, D_TOTAL)} yDomain={[-0.0201, 0.4215]} yTicks={Y_TICKS_CD} />
        <FitPanel geo={GEO_E} dots={E_DOTS} comps={[E_BLUE, E_ORANGE, E_GREEN, E_RED, E_PURPLE, E_BROWN, E_PINK, E_GRAY]} fit={E_FIT} yDomain={[0.3, 161.5]} yTicks={Y_TICKS_E} />
        <FitPanel geo={GEO_F} dots={F_DOTS} comps={[F_BLUE, F_ORANGE, F_GREEN, F_RED, F_PURPLE, F_BROWN, F_PINK, F_GRAY]} fit={F_FIT} yDomain={[21.1, 395.2]} yTicks={Y_TICKS_F} />
      </div>
    </div>
  );
}
